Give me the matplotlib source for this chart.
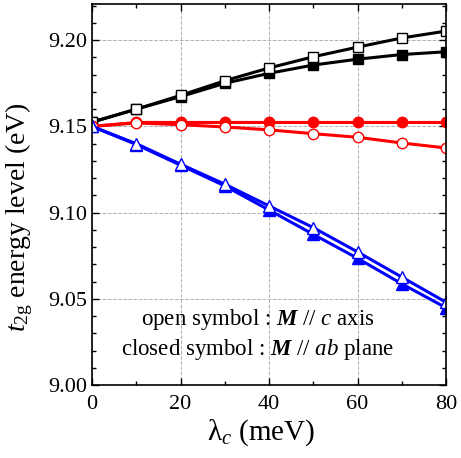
import matplotlib.pyplot as plt
import numpy as np

plt.rcParams['font.family'] = ['Liberation Serif', 'DejaVu Serif']
plt.rcParams['mathtext.fontset'] = 'custom'
plt.rcParams['mathtext.rm'] = 'Liberation Serif'
plt.rcParams['mathtext.it'] = 'Liberation Serif:italic'
plt.rcParams['mathtext.bf'] = 'Liberation Serif:bold'
plt.rcParams['mathtext.bfit'] = 'Liberation Serif:bold:italic'

lam = [0, 10, 20, 30, 40, 50, 60, 70, 80]

sq_open = [9.1525, 9.160, 9.168, 9.1765, 9.1839, 9.1904, 9.196, 9.2013, 9.2053]
sq_closed = [9.1525, 9.160, 9.1673, 9.175, 9.1808, 9.1856, 9.189, 9.1917, 9.1933]
circ_open = [9.150, 9.152, 9.151, 9.1497, 9.148, 9.1458, 9.1437, 9.1404, 9.1375]
circ_closed = [9.150, 9.1523, 9.1523, 9.1523, 9.1523, 9.1523, 9.1523, 9.1523, 9.1523]
tri_open = [9.150, 9.140, 9.1281, 9.1165, 9.1039, 9.0913, 9.0772, 9.0626, 9.048]
tri_closed = [9.150, 9.1395, 9.1275, 9.1155, 9.1015, 9.0874, 9.0735, 9.0587, 9.0448]

fig = plt.figure(figsize=(4.61, 4.58), dpi=100)
ax = fig.add_axes([0.1996, 0.1594, 0.7679, 0.8318])

lw = 2.2
ms = 7.5
ax.plot(lam, sq_closed, color='black', lw=lw, marker='s', ms=ms, mfc='black', mec='black')
ax.plot(lam, sq_open, color='black', lw=lw, marker='s', ms=ms, mfc='white', mec='black', mew=1)
ax.plot(lam, circ_closed, color='red', lw=lw, marker='o', ms=ms, mfc='red', mec='red')
ax.plot(lam, circ_open, color='red', lw=lw, marker='o', ms=ms, mfc='white', mec='red', mew=1)
ax.plot(lam, tri_closed, color='blue', lw=lw, marker='^', ms=ms + 0.5, mfc='blue', mec='blue')
ax.plot(lam, tri_open, color='blue', lw=lw, marker='^', ms=ms + 0.5, mfc='white', mec='blue', mew=1)

ax.set_xlim(0, 80)
ax.set_ylim(9.0, 9.221)
ax.set_xticks([0, 20, 40, 60, 80])
ax.set_xticks(np.arange(0, 81, 10), minor=True)
ax.set_yticks([9.00, 9.05, 9.10, 9.15, 9.20])
ax.set_yticks(np.arange(9.0, 9.221, 0.01), minor=True)
ax.set_yticklabels(['9.00', '9.05', '9.10', '9.15', '9.20'])
ax.tick_params(which='both', direction='in', top=True, right=True, labelsize=16)
ax.tick_params(which='major', length=5, width=1)
ax.tick_params(which='minor', length=3, width=1)
ax.tick_params(axis='x', pad=7)
ax.grid(True, which='major', ls='--', color='#b0b0b0', lw=0.7)
ax.set_axisbelow(True)
for s in ax.spines.values():
    s.set_linewidth(1.2)

ax.set_xlabel(r'λ$_c$ (meV)', fontsize=21)
ax.xaxis.set_label_coords(0.478, -0.085)
ax.set_ylabel(r'$t_{\mathrm{2g}}$ energy level (eV)', fontsize=20)
ax.yaxis.set_label_coords(-0.16, 0.44)

ax.text(0.469, 0.171, r'open symbol : $\mathbfit{M}$ // $c$ axis', transform=ax.transAxes,
        ha='center', va='center', fontsize=16.5)
ax.text(0.469, 0.092, r'closed symbol : $\mathbfit{M}$ // $ab$ plane', transform=ax.transAxes,
        ha='center', va='center', fontsize=16.5)

plt.savefig('out.png', dpi=100)
